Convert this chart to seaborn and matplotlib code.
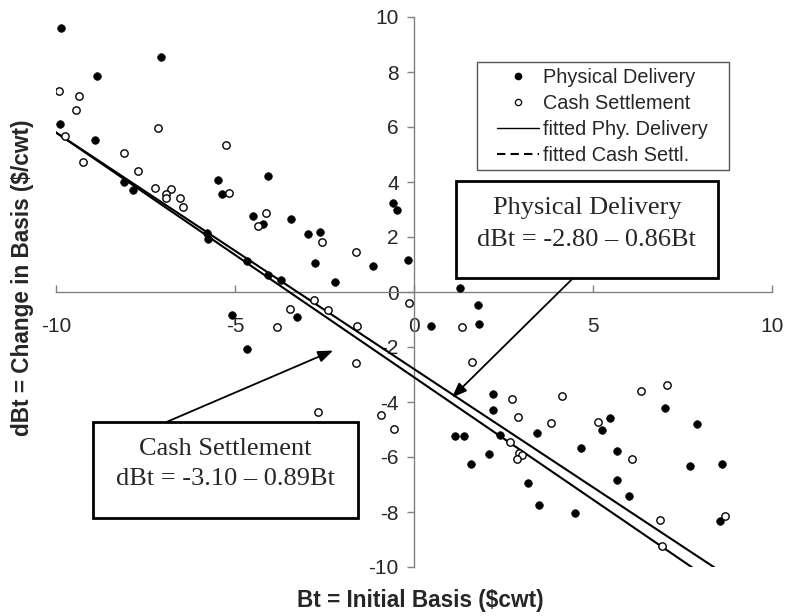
import matplotlib
matplotlib.use("Agg")
import matplotlib.pyplot as plt
import seaborn as sns
import numpy as np
import pandas as pd
from matplotlib.lines import Line2D
from matplotlib.patches import Rectangle
from matplotlib.legend_handler import HandlerLine2D

# ---------------- data ----------------
phys_x = [-9.86, -7.08, -8.86, -9.88, -8.90, -8.11, -7.85, -5.47, -4.08, -5.36,
          -4.49, -4.21, -3.44, -5.79, -5.75, -4.67, -4.08, -3.72, -5.09, -4.66,
          -3.26, -2.97, -2.63, -0.60, -0.47, -2.77, -1.15, -0.17, -2.20, 1.28,
          0.47, 1.78, 1.81, 1.14, 1.39, 1.59, 2.20, 2.20, 2.40, 2.09,
          3.44, 3.18, 3.50, 4.50, 4.66, 7.01, 5.47, 5.24, 5.67, 5.67,
          6.00, 7.90, 7.72, 8.61, 8.54]
phys_y = [9.60, 8.55, 7.87, 6.11, 5.53, 4.00, 3.71, 4.07, 4.23, 3.55,
          2.75, 2.48, 2.64, 2.13, 1.92, 1.11, 0.62, 0.43, -0.84, -2.09,
          -0.90, 2.11, 2.17, 3.25, 2.97, 1.07, 0.93, 1.18, 0.37, 0.15,
          -1.24, -0.46, -1.18, -5.24, -5.24, -6.25, -3.71, -4.29, -5.19, -5.90,
          -5.13, -6.96, -7.74, -8.05, -5.67, -4.20, -4.58, -5.00, -5.77, -6.85,
          -7.43, -4.80, -6.32, -6.26, -8.34]

cash_x = [-9.92, -9.37, -9.45, -7.16, -9.76, -5.26, -8.09, -9.25, -7.71, -7.24,
          -6.80, -6.93, -6.93, -6.53, -6.45, -5.18, -4.13, -4.36, -3.47, -3.83,
          -2.57, -1.63, -0.14, -2.80, -2.39, -1.60, 1.35, 1.62, -1.63, -2.67,
          -0.93, -0.55, 2.75, 2.91, 4.13, 2.68, 2.94, 3.03, 2.87, 3.84,
          6.35, 7.06, 5.13, 6.10, 6.87, 6.94, 8.70]
cash_y = [7.30, 7.12, 6.62, 5.97, 5.67, 5.35, 5.06, 4.72, 4.39, 3.80,
          3.75, 3.58, 3.42, 3.43, 3.09, 3.59, 2.88, 2.41, -0.62, -1.28,
          1.81, 1.46, -0.39, -0.30, -0.64, -1.24, -1.29, -2.54, -2.59, -4.38,
          -4.47, -4.97, -3.89, -4.53, -3.77, -5.47, -5.86, -5.92, -6.06, -4.76,
          -3.59, -3.37, -4.74, -6.09, -8.28, -9.22, -8.14]

# fitted equations (intercept, slope) as printed on the chart
phys_fit = (-2.80, -0.86)
cash_fit = (-3.10, -0.89)
fit_x = [-10, 10]

x_ticks = [-10, -5, 0, 5, 10]
y_ticks = [-10, -8, -6, -4, -2, 0, 2, 4, 6, 8, 10]

legend_labels = ["Physical Delivery", "Cash Settlement",
                 "fitted Phy. Delivery", "fitted Cash Settl."]

W, H = 785, 616

# ---------------- figure ----------------
sns.set_style("white")
plt.rcParams["font.family"] = ["Liberation Sans", "DejaVu Sans"]

fig = plt.figure(figsize=(W / 100, H / 100), dpi=100)
ax = fig.add_axes([56 / W, 1 - 567 / H, (772 - 56) / W, (567 - 17) / H])

df_p = pd.DataFrame({"x": phys_x, "y": phys_y})
df_c = pd.DataFrame({"x": cash_x, "y": cash_y})
fx = np.array(fit_x, dtype=float)
df_fp = pd.DataFrame({"x": fx, "y": phys_fit[0] + phys_fit[1] * fx})
df_fc = pd.DataFrame({"x": fx, "y": cash_fit[0] + cash_fit[1] * fx})

sns.lineplot(data=df_fp, x="x", y="y", ax=ax, color="black", lw=1.5, zorder=2)
sns.lineplot(data=df_fc, x="x", y="y", ax=ax, color="black", lw=1.5, zorder=2)
sns.scatterplot(data=df_p, x="x", y="y", ax=ax, color="black", s=30,
                edgecolor="black", linewidth=0.5, zorder=3)
sns.scatterplot(data=df_c, x="x", y="y", ax=ax, color="white", s=28,
                edgecolor="black", linewidth=1.0, zorder=4)

ax.set_xlim(-10, 10)
ax.set_ylim(-10, 10)
ax.set_xlabel("")
ax.set_ylabel("")

for side in ["top", "right"]:
    ax.spines[side].set_visible(False)
ax.spines["left"].set_position(("data", 0))
ax.spines["bottom"].set_position(("data", 0))
for side in ["left", "bottom"]:
    ax.spines[side].set_color("#808080")
    ax.spines[side].set_linewidth(1.0)
    ax.spines[side].set_zorder(1)

ax.set_xticks(x_ticks)
ax.set_xticklabels([str(t) for t in x_ticks])
ax.set_yticks(y_ticks)
ax.set_yticklabels([str(t) for t in y_ticks])
ax.tick_params(axis="x", direction="in", length=5, width=1, color="#808080",
               pad=18, labelsize=15, bottom=True)
ax.tick_params(axis="y", direction="out", length=5, width=1, color="#808080",
               pad=6, labelsize=15, left=True)

# axis titles
fig.text(420 / W, 1 - 601 / H, "Bt = Initial Basis ($cwt)", ha="center",
         va="center", fontsize=16.3, fontweight="bold")
fig.text(23 / W, 1 - 278 / H, "dBt = Change in Basis ($/cwt)", ha="center",
         va="center", rotation=90, fontsize=16.3, fontweight="bold")


# legend (handles shifted right inside their slot, as in the reference)
class ShiftedHandler(HandlerLine2D):
    def create_artists(self, legend, orig_handle, xdescent, ydescent, width,
                       height, fontsize, trans):
        shift = width * 0.23
        return super().create_artists(legend, orig_handle, xdescent - shift,
                                      ydescent, width - shift, height,
                                      fontsize, trans)


handles = [
    Line2D([], [], ls="none", marker="o", color="black", markersize=4.5),
    Line2D([], [], ls="none", marker="o", markerfacecolor="white",
           markeredgecolor="black", markersize=4.5, markeredgewidth=0.9),
    Line2D([], [], color="black", lw=1.0),
    Line2D([], [], color="black", lw=1.5, ls=(0, (4, 2.5))),
]
ax.add_patch(Rectangle((477 / W, 1 - 170 / H), (729 - 477) / W,
                       (170 - 62) / H, transform=fig.transFigure,
                       facecolor="white", edgecolor="#555555", lw=1.0,
                       zorder=5, clip_on=False))
leg = ax.legend(handles, legend_labels, loc="upper left",
                bbox_to_anchor=(477 / W, 1 - 60 / H),
                bbox_transform=fig.transFigure, fontsize=14.3, frameon=False,
                handlelength=2.74, handletextpad=0.2, labelspacing=0.36,
                borderpad=0.4, borderaxespad=0,
                handler_map={Line2D: ShiftedHandler()})
leg.set_zorder(6)

# annotation boxes
serif = ["Liberation Serif", "DejaVu Serif"]
ax.add_patch(Rectangle((1.17, 0.50), 8.49 - 1.17, 4.04 - 0.50, fill=True,
                       facecolor="white", edgecolor="black", lw=2, zorder=5))
ax.text(4.83, 3.05, "Physical Delivery", ha="center", va="center",
        fontsize=19, family=serif, zorder=6)
ax.text(4.83, 1.89, "dBt = -2.80 \u2013 0.86Bt", ha="center", va="center",
        fontsize=19, family=serif, zorder=6)

ax.add_patch(Rectangle((-8.97, -8.22), -1.56 + 8.97, -4.72 + 8.22, fill=True,
                       facecolor="white", edgecolor="black", lw=2, zorder=5))
ax.text(-5.27, -5.70, "Cash Settlement", ha="center", va="center",
        fontsize=19, family=serif, zorder=6)
ax.text(-5.27, -6.80, "dBt = -3.10 \u2013 0.89Bt", ha="center", va="center",
        fontsize=19, family=serif, zorder=6)

arrow_kw = dict(arrowstyle="-|>,head_length=0.9,head_width=0.35", color="black",
                lw=1.3, shrinkA=0, shrinkB=0)
ax.annotate("", xy=(1.06, -3.84), xytext=(4.44, 0.50), arrowprops=arrow_kw,
            zorder=6)
ax.annotate("", xy=(-2.26, -2.13), xytext=(-6.90, -4.72), arrowprops=arrow_kw,
            zorder=6)

fig.savefig("out.png", dpi=100)
